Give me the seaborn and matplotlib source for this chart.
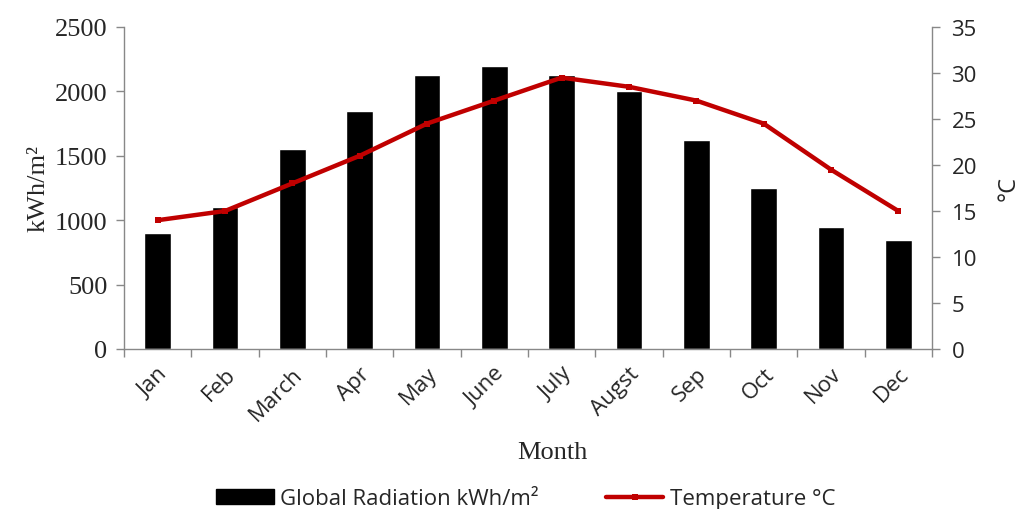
import numpy as np
import pandas as pd
import matplotlib
matplotlib.use("Agg")
import matplotlib.pyplot as plt
from matplotlib.patches import Patch
from matplotlib.lines import Line2D
from matplotlib.ticker import MultipleLocator, FixedLocator
import seaborn as sns

# data
months = ["Jan", "Feb", "March", "Apr", "May", "June",
          "July", "Augst", "Sep", "Oct", "Nov", "Dec"]
radiation = [900, 1100, 1550, 1850, 2130, 2200, 2130, 2000, 1620, 1250, 950, 850]
temperature = [14, 15, 18, 21, 24.5, 27, 29.5, 28.5, 27, 24.5, 19.5, 15]

df = pd.DataFrame({"month": months, "radiation": radiation,
                   "temperature": temperature})
df["pos"] = np.arange(len(df))

sns.set_style("white")
plt.rcParams["font.family"] = ["Open Sans", "DejaVu Sans"]

SERIF = ["Liberation Serif", "DejaVu Serif"]
SANS = ["Open Sans", "DejaVu Sans"]
GREY = "#888888"
RED = "#c00000"

fig = plt.figure(figsize=(10.21, 5.10), dpi=100)
ax = fig.add_axes([124 / 1021, 1 - 350 / 510, (932 - 124) / 1021, (350 - 28) / 510])

sns.barplot(data=df, x="pos", y="radiation", color="black", width=0.4,
            saturation=1, ax=ax, native_scale=True)
ax.set_xlim(-0.5, len(df) - 0.5)
ax.set_ylim(0, 2500)
ax.yaxis.set_major_locator(MultipleLocator(500))

ax2 = ax.twinx()
sns.lineplot(data=df, x="pos", y="temperature", color=RED, lw=3.2,
             marker="s", markersize=5, markeredgewidth=0, ax=ax2)
ax2.set_ylim(0, 35)
ax2.yaxis.set_major_locator(MultipleLocator(5))
ax2.set_xlim(-0.5, len(df) - 0.5)

# x ticks: labels at centres, tick marks at category boundaries (Excel style)
ax.xaxis.set_major_locator(FixedLocator(df["pos"].values))
ax.set_xticklabels(months, rotation=45, ha="right", rotation_mode="anchor",
                   fontsize=16, family=SANS)
ax.tick_params(axis="x", which="major", length=0, pad=10)
ax.xaxis.set_minor_locator(FixedLocator(np.arange(len(df) + 1) - 0.5))
ax.tick_params(axis="x", which="minor", length=6, width=1, color=GREY,
               direction="out", bottom=True)

ax.tick_params(axis="y", length=6, width=1, color=GREY, direction="out",
               left=True, labelsize=19, pad=6)
for t in ax.get_yticklabels():
    t.set_family(SERIF)
ax2.tick_params(axis="y", length=6, width=1, color=GREY, direction="out",
                right=True, labelsize=16, pad=8)
for t in ax2.get_yticklabels():
    t.set_family(SANS)

for a in (ax, ax2):
    a.spines["top"].set_visible(False)
    for side in ("left", "right", "bottom"):
        a.spines[side].set_color(GREY)
        a.spines[side].set_linewidth(1)
ax.spines["right"].set_visible(False)
ax2.spines["left"].set_visible(False)
ax2.spines["bottom"].set_visible(False)

ax.set_xlabel("Month", fontsize=19, family=SERIF)
ax.xaxis.set_label_coords(0.53, -0.285)
ax.set_ylabel("kWh/m²", fontsize=19, family=SERIF, labelpad=4)
ax2.set_ylabel("°C", fontsize=17, family=SANS, labelpad=14)
ax2.yaxis.label.set_rotation(90)

handles = [Patch(facecolor="black", edgecolor="black"),
           Line2D([0], [0], color=RED, lw=3.2, marker="s", markersize=5,
                  markeredgewidth=0)]
labels = ["Global Radiation kWh/m²", "Temperature °C"]
fig.legend(handles, labels, loc="lower center", ncol=2, frameon=False,
           bbox_to_anchor=(0.515, -0.04), fontsize=16, handlelength=2.6,
           handleheight=0.7, columnspacing=3.0, handletextpad=0.3)

fig.savefig("out.png", dpi=100)
